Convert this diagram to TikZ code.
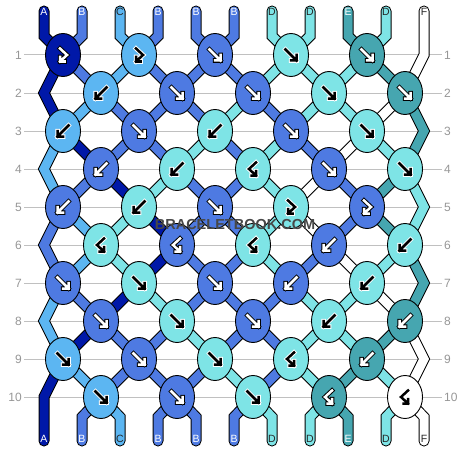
\documentclass[tikz,border=0pt]{standalone}
\usepackage{fontspec}
\setmainfont{Liberation Sans}
\usetikzlibrary{shapes.geometric}

\pgfdeclarelayer{background}
\pgfsetlayers{background,main}

\definecolor{colA}{RGB}{0,24,168}
\definecolor{colB}{RGB}{78,122,226}
\definecolor{colC}{RGB}{92,182,242}
\definecolor{colD}{RGB}{126,228,230}
\definecolor{colE}{RGB}{70,166,176}
\definecolor{colF}{RGB}{255,255,255}
\definecolor{rowgrey}{RGB}{150,150,150}
\definecolor{gridgrey}{RGB}{192,192,192}

% arrow shapes inside the knots
\def\pathf{(-5.5,-5.5) -- (5.5,5.5) (0,5.5) -- (5.5,5.5) -- (5.5,0)}
\def\pathb{(5.5,-5.5) -- (-5.5,5.5) (0,5.5) -- (-5.5,5.5) -- (-5.5,0)}
\def\pathfb{(-3,-6.5) -- (4,0) -- (-3,6.5) (-3,2) -- (-3,6.5) -- (1.5,6.5)}
\def\pathbf{(3,-6.5) -- (-4,0) -- (3,6.5) (3,2) -- (3,6.5) -- (-1.5,6.5)}

\tikzset{
  knot/.style={ellipse, draw=black, line width=0.9pt, fill=col#1,
    minimum width=35pt, minimum height=43pt, inner sep=0pt},
  strand/.style={draw=black, line width=1pt, double=col#1, double distance=9pt,
    line join=miter, line cap=round},
  arrowink/.style={line width=1pt, double distance=2.5pt, line join=miter,
    line cap=rect, ink#1},
  inkA/.style={draw=black, double=white},
  inkB/.style={draw=black, double=white},
  inkE/.style={draw=black, double=white},
  inkC/.style={draw=white, double=black},
  inkD/.style={draw=white, double=black},
  inkF/.style={draw=white, double=black},
  endlabel/.style={font=\fontsize{10.5}{11}\selectfont, inner sep=0pt, lab#1},
  labA/.style={text=white}, labB/.style={text=white}, labE/.style={text=white},
  labC/.style={text=black!85}, labD/.style={text=black!85}, labF/.style={text=black!85},
  rownum/.style={font=\fontsize{12}{12}\selectfont, text=rowgrey, inner sep=2pt},
  gridline/.style={draw=gridgrey, line width=1pt},
  brand/.style={font=\bfseries\fontsize{14.5}{14.5}\selectfont, text=black!72}
}

\begin{document}
\begin{tikzpicture}[x=1pt,y=-1pt]
\useasboundingbox (0,0) rectangle (468,452);

% knots, row by row
\foreach \r/\knots in {
  1/{A/fb,C/fb,B/f,D/f,E/f},
  2/{C/b,B/f,B/f,D/f,E/f},
  3/{C/b,B/f,D/b,B/f,D/f},
  4/{B/b,D/b,D/bf,B/f,D/f},
  5/{B/b,D/b,B/f,D/fb,B/fb},
  6/{D/bf,B/bf,D/bf,B/b,D/b},
  7/{B/f,D/f,B/f,B/b,D/b},
  8/{B/f,D/f,B/f,D/b,E/b},
  9/{C/f,B/f,D/f,D/bf,E/b},
  10/{C/f,B/f,D/f,E/bf,F/bf}}{
  \foreach \c/\t [count=\k] in \knots {
    \pgfmathsetmacro\kx{63+76*(\k-1)+38*(1-mod(\r,2))}
    \pgfmathsetmacro\ky{55+38*(\r-1)}
    \node[knot=\c] (k\r-\k) at (\kx,\ky) {};
    \expandafter\let\expandafter\arrpath\csname path\t\endcsname
    \draw[arrowink=\c, shift={(\kx,\ky)}] \arrpath;
  }
}

% string ends and their letters
\foreach \s [count=\i] in {A,B,C,B,B,B,D,D,E,D,F} {
  \coordinate (t\i) at ({44+38*(\i-1)},11);
  \coordinate (u\i) at ({44+38*(\i-1)},36);
  \coordinate (v\i) at ({44+38*(\i-1)},417);
  \coordinate (b\i) at ({44+38*(\i-1)},441);
  \node[endlabel=\s] (top\i) at ({44+38*(\i-1)},12) {\s};
  \node[endlabel=\s] (bot\i) at ({44+38*(\i-1)},439) {\s};
}
\foreach \r in {2,4,...,10} \coordinate (L\r) at (44,{55+38*(\r-1)});
\foreach \r in {1,3,...,9} \coordinate (R\r) at (424,{55+38*(\r-1)});

\begin{pgfonlayer}{background}
  \foreach \r in {1,...,10} {
    \node[rownum, anchor=east] (lrow\r) at (24,{55+38*(\r-1)}) {\r};
    \node[rownum, anchor=west] (rrow\r) at (442,{55+38*(\r-1)}) {\r};
    \draw[gridline] (lrow\r) -- (rrow\r);
  }
  % the eleven strings
  \draw[strand=A] (t1) -- (u1) -- (k1-1.center) -- (L2) -- (k3-1.center) -- (k4-1.center) -- (k5-2.center) -- (k6-2.center) -- (k7-2.center) -- (k8-1.center) -- (k9-1.center) -- (L10) -- (b1);
  \draw[strand=B] (t2) -- (u2) -- (k1-1.center) -- (k2-1.center) -- (k3-2.center) -- (k4-2.center) -- (k5-3.center) -- (k6-3.center) -- (k7-3.center) -- (k8-2.center) -- (k9-2.center) -- (k10-1.center) -- (v2) -- (b2);
  \draw[strand=C] (t3) -- (u3) -- (k1-2.center) -- (k2-1.center) -- (k3-1.center) -- (L4) -- (k5-1.center) -- (k6-1.center) -- (k7-1.center) -- (L8) -- (k9-1.center) -- (k10-1.center) -- (v3) -- (b3);
  \draw[strand=B] (t4) -- (u4) -- (k1-2.center) -- (k2-2.center) -- (k3-3.center) -- (k4-3.center) -- (k5-3.center) -- (k6-2.center) -- (k7-3.center) -- (k8-3.center) -- (k9-4.center) -- (k10-3.center) -- (v6) -- (b6);
  \draw[strand=B] (t5) -- (u5) -- (k1-3.center) -- (k2-3.center) -- (k3-4.center) -- (k4-4.center) -- (k5-5.center) -- (k6-4.center) -- (k7-4.center) -- (k8-3.center) -- (k9-3.center) -- (k10-2.center) -- (v4) -- (b4);
  \draw[strand=B] (t6) -- (u6) -- (k1-3.center) -- (k2-2.center) -- (k3-2.center) -- (k4-1.center) -- (k5-1.center) -- (L6) -- (k7-1.center) -- (k8-1.center) -- (k9-2.center) -- (k10-2.center) -- (v5) -- (b5);
  \draw[strand=D] (t7) -- (u7) -- (k1-4.center) -- (k2-4.center) -- (k3-5.center) -- (k4-5.center) -- (R5) -- (k6-5.center) -- (k7-5.center) -- (k8-4.center) -- (k9-4.center) -- (k10-4.center) -- (v8) -- (b8);
  \draw[strand=D] (t8) -- (u8) -- (k1-4.center) -- (k2-3.center) -- (k3-3.center) -- (k4-2.center) -- (k5-2.center) -- (k6-1.center) -- (k7-2.center) -- (k8-2.center) -- (k9-3.center) -- (k10-3.center) -- (v7) -- (b7);
  \draw[strand=E] (t9) -- (u9) -- (k1-5.center) -- (k2-5.center) -- (R3) -- (k4-5.center) -- (k5-5.center) -- (k6-5.center) -- (R7) -- (k8-5.center) -- (k9-5.center) -- (k10-4.center) -- (v9) -- (b9);
  \draw[strand=D] (t10) -- (u10) -- (k1-5.center) -- (k2-4.center) -- (k3-4.center) -- (k4-3.center) -- (k5-4.center) -- (k6-3.center) -- (k7-4.center) -- (k8-4.center) -- (k9-5.center) -- (k10-5.center) -- (v10) -- (b10);
  \draw[strand=F] (t11) -- (R1) -- (k2-5.center) -- (k3-5.center) -- (k4-4.center) -- (k5-4.center) -- (k6-4.center) -- (k7-5.center) -- (k8-5.center) -- (R9) -- (k10-5.center) -- (v11) -- (b11);
\end{pgfonlayer}

\node[brand] (mark) at (235,225) {BRACELETBOOK.COM};
\end{tikzpicture}
\end{document}
